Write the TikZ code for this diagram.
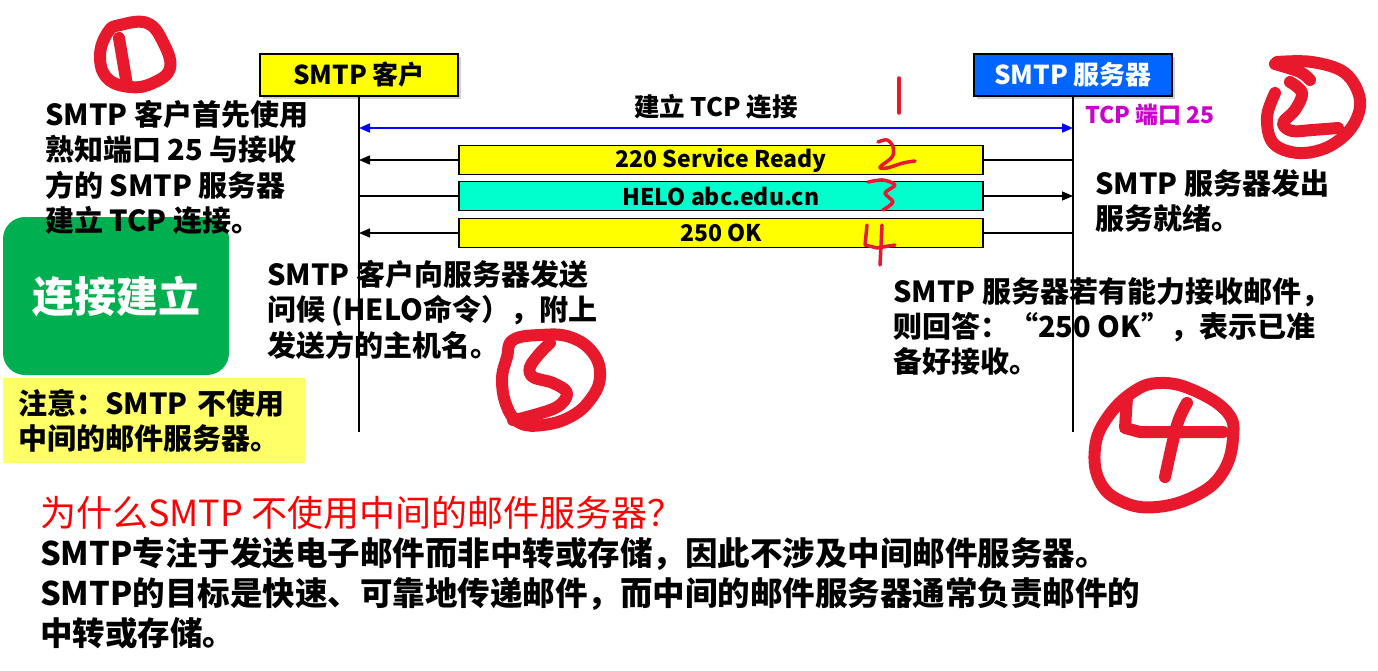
\documentclass[tikz,border=0pt]{standalone}
\usepackage{fontspec}
\setmainfont{Noto Sans CJK SC}
\usetikzlibrary{arrows.meta,positioning,shadows}
\definecolor{lifeyel}{HTML}{FFFF00}
\definecolor{srvblue}{HTML}{0066FF}
\definecolor{helocyan}{HTML}{00FFCC}
\definecolor{okgreen}{HTML}{00B050}
\definecolor{notesoft}{HTML}{FFFF66}
\definecolor{portmag}{HTML}{CC00CC}
\definecolor{inkred}{HTML}{E8192C}
\definecolor{tcpblue}{HTML}{0000FF}
\tikzset{
  ebox/.style={draw=black,line width=1.6pt,minimum width=198pt,minimum height=42pt,inner sep=0pt,font=\fontsize{26}{28}\selectfont\bfseries,drop shadow={opacity=0.35,shadow xshift=3pt,shadow yshift=-3pt}},
  mbar/.style={draw=black,line width=1.6pt,minimum width=524pt,minimum height=29pt,inner sep=0pt,font=\fontsize{23}{24}\selectfont\bfseries},
  mline/.style={line width=1.4pt},
  marr/.style={-{Triangle[length=11pt,width=9pt]},line width=1.4pt},
  tcparr/.style={{Triangle[length=11pt,width=9pt]}-{Triangle[length=11pt,width=9pt]},line width=2pt,draw=tcpblue},
  life/.style={line width=2pt},
  ptext/.style={anchor=north west,inner sep=0pt,align=left,font=\fontsize{29}{35.5}\selectfont\bfseries},
  hand/.style={draw=inkred,line width=12pt,line cap=round,line join=round},
  handthin/.style={draw=inkred,line width=3.5pt,line cap=round,line join=round}
}
\begin{document}
\begin{tikzpicture}[x=1pt,y=-1pt]
  \useasboundingbox (0,0) rectangle (1378,670);
  \fill[white] (0,0) rectangle (1378,670);
  % the two parties and their time lines
  \node[ebox,fill=lifeyel] (cli) at (359,75) {SMTP 客户};
  \node[ebox,fill=srvblue,text=white] (srv) at (1073,75) {SMTP 服务器};
  \coordinate (cbot) at (359,432);
  \coordinate (sbot) at (1073,432);
  \draw[life] (cli.south) -- (cbot);
  \draw[life] (srv.south) -- (sbot);
  % connection setup
  \coordinate (c0) at (359,128);
  \coordinate (s0) at (1073,128);
  \draw[tcparr] (c0) -- node[above=4pt,font=\fontsize{25.5}{28}\selectfont\bfseries] (tcp) {建立 TCP 连接} (s0);
  \node[anchor=west,inner sep=0pt,text=portmag,font=\fontsize{23}{26}\selectfont\bfseries] (port) at (1085,115) {TCP 端口 25};
  \node[mbar,fill=lifeyel] (b1) at (721,160) {220 Service Ready};
  \node[mbar,fill=helocyan] (b2) at (721,196) {HELO abc.edu.cn};
  \node[mbar,fill=lifeyel] (b3) at (721,233) {250 OK};
  \draw[mline] (b1.east -| srv.south) -- (b1.east);
  \draw[marr] (b1.west) -- (b1.west -| cli.south);
  \draw[mline] (b2.west -| cli.south) -- (b2.west);
  \draw[marr] (b2.east) -- (b2.east -| srv.south);
  \draw[mline] (b3.east -| srv.south) -- (b3.east);
  \draw[marr] (b3.west) -- (b3.west -| cli.south);
  % side notes
  \node[fill=okgreen,rounded corners=22pt,minimum width=226pt,minimum height=158pt,text=white,font=\fontsize{42}{46}\selectfont\bfseries] (phase) at (116,296) {连接建立};
  \node[fill=notesoft,anchor=north west,minimum width=302pt,minimum height=85pt,inner xsep=15pt,text width=272pt,align=left,font=\fontsize{29}{35}\selectfont\bfseries] (note) at (3,378) {注意：SMTP 不使用\\中间的邮件服务器。};
  \node[ptext] (t1) at (45,100) {SMTP 客户首先使用\\熟知端口 25 与接收\\方的 SMTP 服务器\\建立 TCP 连接。};
  \node[ptext] (t2) at (1095,169) {SMTP 服务器发出\\服务就绪。};
  \node[ptext] (t3) at (267,260) {SMTP 客户向服务器发送\\问候 (HELO命令），附上\\发送方的主机名。};
  \node[ptext,font=\fontsize{29}{35}\selectfont\bfseries] (t4) at (893,277) {SMTP 服务器若有能力接收邮件，\\则回答：“250 OK”，表示已准\\备好接收。};
  % why no relay
  \node[anchor=north west,inner sep=0pt,text=red,font=\fontsize{36}{40}\selectfont] (why) at (40,496) {为什么SMTP 不使用中间的邮件服务器？};
  \node[anchor=north west,inner sep=0pt,align=left,font=\fontsize{32.5}{40}\selectfont\bfseries] (ans) at (40,537) {SMTP专注于发送电子邮件而非中转或存储，因此不涉及中间邮件服务器。\\SMTP的目标是快速、可靠地传递邮件，而中间的邮件服务器通常负责邮件的\\中转或存储。};
  % hand drawn marks
  \draw[hand] plot[smooth cycle,tension=0.7] coordinates {(120,25) (147,23) (163,42) (170,68) (153,83) (130,87) (107,78) (100,55) (108,32)};
  \draw[hand] (119,38) -- (127,85);
  \draw[hand] plot[smooth,tension=0.6] coordinates {(1275,93) (1267,117) (1273,143) (1298,153) (1328,147) (1352,127) (1360,100) (1345,73) (1312,62) (1277,62)};
  \draw[hand] plot[smooth,tension=0.6] coordinates {(1275,64) (1300,72) (1310,80)};
  \draw[hand] plot[smooth,tension=0.6] coordinates {(1290,82) (1302,93) (1295,110) (1283,123) (1292,131) (1312,130) (1338,128)};
  \draw[hand] plot[smooth cycle,tension=0.7] coordinates {(513,340) (540,335) (570,337) (593,353) (600,377) (590,400) (570,417) (543,425) (520,423) (507,407) (502,380) (507,357)};
  \draw[hand] plot[smooth,tension=0.6] coordinates {(550,343) (540,353) (530,367) (533,377) (553,383) (567,393) (557,407) (527,417) (513,420)};
  \draw[hand] plot[smooth cycle,tension=0.7] coordinates {(1133,392) (1160,383) (1193,390) (1227,412) (1233,438) (1223,472) (1197,495) (1157,507) (1123,502) (1100,482) (1095,448) (1107,418)};
  \draw[hand] (1127,397) -- (1125,428) -- (1140,432) -- (1223,432);
  \draw[hand] plot[smooth,tension=0.6] coordinates {(1187,403) (1177,425) (1165,477)};
  \draw[handthin] (899,78) -- (899,113);
  \draw[handthin] plot[smooth,tension=0.6] coordinates {(878,142) (887,140) (893,147) (892,157) (880,167) (887,168) (903,163) (915,161)};
  \draw[handthin] plot[smooth,tension=0.5] coordinates {(868,182) (883,180) (895,185) (885,193) (893,202) (883,210)};
  \draw[handthin] (867,225) -- (865,245) -- (877,248) -- (895,245);
  \draw[handthin] (882,225) -- (880,265);
\end{tikzpicture}
\end{document}
